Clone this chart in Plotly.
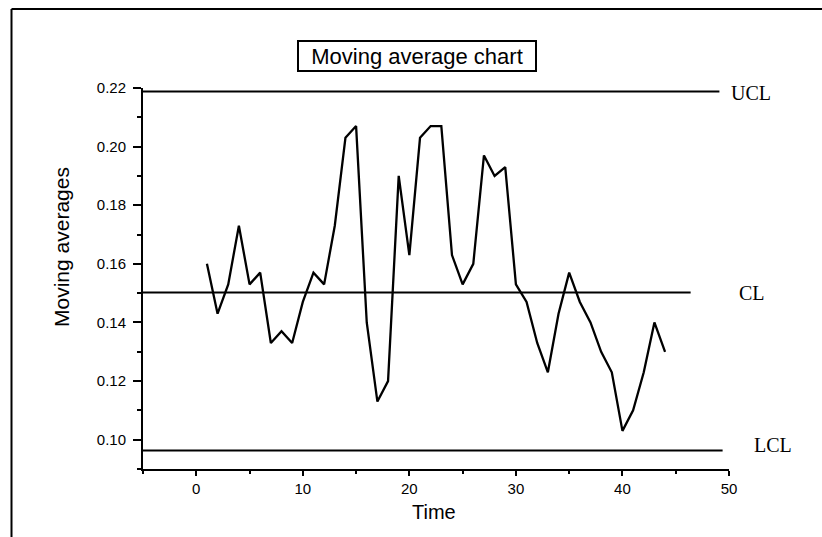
import plotly.graph_objects as go

# ---- data ----
time = list(range(1, 45))
moving_avg = [0.160, 0.143, 0.153, 0.173, 0.153, 0.157, 0.133, 0.137, 0.133, 0.147,
              0.157, 0.153, 0.173, 0.203, 0.207, 0.140, 0.113, 0.120, 0.190, 0.163,
              0.203, 0.207, 0.207, 0.163, 0.153, 0.160, 0.197, 0.190, 0.193, 0.153,
              0.147, 0.133, 0.123, 0.143, 0.157, 0.147, 0.140, 0.130, 0.123, 0.103,
              0.110, 0.123, 0.140, 0.130]
limit_names = ["UCL", "CL", "LCL"]
limit_values = [0.2188, 0.1502, 0.0963]
limit_x_start = [-5, -5, -5]
limit_x_end = [49.1, 46.4, 49.4]
x_ticks = [0, 10, 20, 30, 40, 50]

# ---- layout geometry (pixels) ----
W, H = 822, 537
ML, MR, MT, MB = 143, 93, 88, 68
PW, PH = W - ML - MR, H - MT - MB


def px(xp):
    return (xp - ML) / PW


def py(yp):
    return (H - MB - yp) / PH


fig = go.Figure()

for name, val, x0, x1 in zip(limit_names, limit_values, limit_x_start, limit_x_end):
    fig.add_trace(go.Scatter(x=[x0, x1], y=[val, val], mode="lines",
                             line=dict(color="black", width=2),
                             showlegend=False, hoverinfo="skip", cliponaxis=False))

fig.add_trace(go.Scatter(x=time, y=moving_avg, mode="lines",
                         line=dict(color="black", width=2.3),
                         showlegend=False))

# limit labels
label_pos = {"UCL": (751, 93), "CL": (751.5, 293), "LCL": (773, 445)}
for name in limit_names:
    xp, yp = label_pos[name]
    fig.add_annotation(text=name, xref="paper", yref="paper", x=px(xp), y=py(yp),
                       xanchor="center", yanchor="middle", showarrow=False,
                       font=dict(family="Liberation Serif", size=20, color="black"))

# title box
fig.add_annotation(text="Moving average chart", xref="paper", yref="paper",
                   x=px(417), y=py(56), xanchor="center", yanchor="middle",
                   showarrow=False, width=236, height=28,
                   bordercolor="black", borderwidth=2, borderpad=0,
                   font=dict(family="Liberation Sans", size=22, color="black"))

# axis titles
fig.add_annotation(text="Moving averages", xref="paper", yref="paper",
                   x=px(61), y=py(247), xanchor="center", yanchor="middle",
                   textangle=-90, showarrow=False,
                   font=dict(family="Liberation Sans", size=21, color="black"))
fig.add_annotation(text="Time", xref="paper", yref="paper",
                   x=px(434), y=py(512), xanchor="center", yanchor="middle",
                   showarrow=False,
                   font=dict(family="Liberation Sans", size=20, color="black"))

# outer frame (left and top lines)
fig.add_shape(type="line", xref="paper", yref="paper",
              x0=px(11.5), x1=px(11.5), y0=py(9), y1=py(H + 5),
              line=dict(color="black", width=2))
fig.add_shape(type="line", xref="paper", yref="paper",
              x0=px(11.5), x1=px(W + 5), y0=py(9), y1=py(9),
              line=dict(color="black", width=2))

axis_font = dict(family="Liberation Sans", size=15, color="black")
fig.update_xaxes(range=[-5, 50], tickvals=x_ticks, ticks="outside", ticklen=5,
                 tickwidth=2, tickcolor="black", showline=True, linewidth=2,
                 linecolor="black", showgrid=False, zeroline=False,
                 tickfont=axis_font,
                 minor=dict(dtick=5, tick0=0, ticks="outside", ticklen=3,
                            tickwidth=2, tickcolor="black", showgrid=False))
fig.update_yaxes(range=[0.09, 0.22], dtick=0.02, tick0=0.10, tickformat=".2f",
                 ticks="outside", ticklen=8, tickwidth=2, tickcolor="black",
                 showline=True, linewidth=2, linecolor="black", showgrid=False,
                 zeroline=False, tickfont=axis_font, ticklabelstandoff=4,
                 minor=dict(dtick=0.01, tick0=0.09, ticks="outside", ticklen=4,
                            tickwidth=2, tickcolor="black", showgrid=False))

fig.update_layout(width=W, height=H, margin=dict(l=ML, r=MR, t=MT, b=MB),
                  plot_bgcolor="white", paper_bgcolor="white", showlegend=False)

fig.write_html("out.html", config={"displayModeBar": False},
               post_script="document.body.style.margin='0px';"
                           "document.body.style.overflow='hidden';")
